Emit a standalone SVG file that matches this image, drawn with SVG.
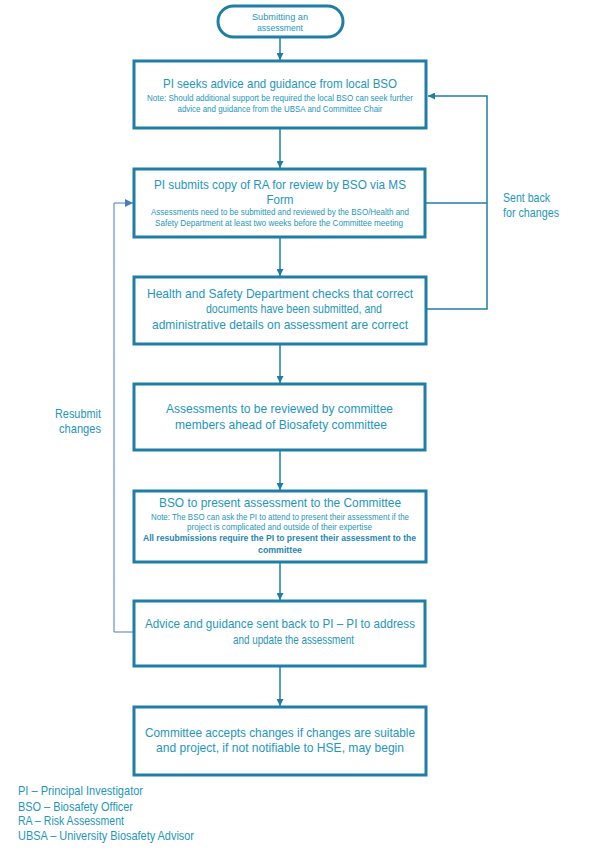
<svg xmlns="http://www.w3.org/2000/svg" width="591" height="855" viewBox="0 0 591 855">
<defs>
<style>
.box{fill:#fff;stroke:#1f7ea6;stroke-width:3}
.t{font-family:"Liberation Sans","Open Sans",sans-serif;fill:#2596bb;text-anchor:middle}
.h{font-size:12.6px}
.n{font-size:8.2px}
.b{font-size:8.8px;font-weight:bold;fill:#1f86b0}
.lg{font-family:"Liberation Sans","Open Sans",sans-serif;fill:#2596bb;font-size:12.2px}
.c{fill:none;stroke:#1f7ea6;stroke-width:1.5}
.c2{fill:none;stroke:#4a7bc8;stroke-width:1}
</style>
<marker id="ah" viewBox="0 0 10 10" refX="10" refY="5" markerWidth="7" markerHeight="7" markerUnits="userSpaceOnUse" orient="auto"><path d="M0,0L10,5L0,10z" fill="#1f7ea6"/></marker>
<marker id="ah2" viewBox="0 0 10 10" refX="10" refY="5" markerWidth="8" markerHeight="8" markerUnits="userSpaceOnUse" orient="auto"><path d="M0,0L10,5L0,10z" fill="#4a7bc8"/></marker>
</defs>
<rect width="591" height="855" fill="#fff"/>
<g id="connectors">
<line class="c" x1="280" y1="38" x2="280" y2="60" marker-end="url(#ah)"/>
<line class="c" x1="280" y1="129" x2="280" y2="168" marker-end="url(#ah)"/>
<line class="c" x1="280" y1="238" x2="280" y2="276" marker-end="url(#ah)"/>
<line class="c" x1="280" y1="345" x2="280" y2="383" marker-end="url(#ah)"/>
<line class="c" x1="280" y1="451" x2="280" y2="490" marker-end="url(#ah)"/>
<line class="c" x1="280" y1="563" x2="280" y2="600" marker-end="url(#ah)"/>
<line class="c" x1="280" y1="667" x2="280" y2="706" marker-end="url(#ah)"/>
<polyline class="c" points="427,309 487,309 487,96 428,96" marker-end="url(#ah)"/>
<line class="c" x1="426" y1="203" x2="487" y2="203"/>
<polyline class="c2" points="133,632 114,632 114,203 133,203" marker-end="url(#ah2)"/>
<text class="lg" x="503" y="202" textLength="47" lengthAdjust="spacingAndGlyphs">Sent back</text>
<text class="lg" x="503" y="216.5" textLength="56" lengthAdjust="spacingAndGlyphs">for changes</text>
<text class="lg" x="55" y="418" textLength="46" lengthAdjust="spacingAndGlyphs">Resubmit</text>
<text class="lg" x="59" y="432.5" textLength="42" lengthAdjust="spacingAndGlyphs">changes</text>
</g>
<g id="start">
<rect x="218" y="6" width="125" height="31" rx="15.5" fill="#fff" stroke="#1f7ea6" stroke-width="3"/>
<text class="t" x="280" y="19.5" font-size="8.8" textLength="56" lengthAdjust="spacingAndGlyphs">Submitting an</text>
<text class="t" x="280" y="31" font-size="8.8" textLength="46" lengthAdjust="spacingAndGlyphs">assessment</text>
</g>
<g id="box1">
<rect class="box" x="134" y="61" width="292" height="67"/>
<text class="t h" x="280" y="88" textLength="234" lengthAdjust="spacingAndGlyphs">PI seeks advice and guidance from local BSO</text>
<text class="t n" x="280" y="101" textLength="266" lengthAdjust="spacingAndGlyphs">Note: Should additional support be required the local BSO can seek further</text>
<text class="t n" x="280" y="111.5" textLength="205" lengthAdjust="spacingAndGlyphs">advice and guidance from the UBSA and Committee Chair</text>
</g>
<g id="box2">
<rect class="box" x="134" y="169" width="291" height="68"/>
<text class="t h" x="280" y="189" textLength="252" lengthAdjust="spacingAndGlyphs">PI submits copy of RA for review by BSO via MS</text>
<text class="t h" x="280" y="203.5" textLength="27" lengthAdjust="spacingAndGlyphs">Form</text>
<text class="t n" x="280" y="215" textLength="258" lengthAdjust="spacingAndGlyphs">Assessments need to be submitted and reviewed by the BSO/Health and</text>
<text class="t n" x="279" y="226" textLength="248" lengthAdjust="spacingAndGlyphs">Safety Department at least two weeks before the Committee meeting</text>
</g>
<g id="box3">
<rect class="box" x="134" y="277" width="292" height="67"/>
<text class="t h" x="280" y="298" textLength="266" lengthAdjust="spacingAndGlyphs">Health and Safety Department checks that correct</text>
<text class="t h" x="294" y="313" textLength="176" lengthAdjust="spacingAndGlyphs">documents have been submitted, and</text>
<text class="t h" x="280" y="328.5" textLength="256" lengthAdjust="spacingAndGlyphs">administrative details on assessment are correct</text>
</g>
<g id="box4">
<rect class="box" x="134" y="384" width="291" height="66"/>
<text class="t h" x="279.5" y="413" textLength="227" lengthAdjust="spacingAndGlyphs">Assessments to be reviewed by committee</text>
<text class="t h" x="281" y="429" textLength="212" lengthAdjust="spacingAndGlyphs">members ahead of Biosafety committee</text>
</g>
<g id="box5">
<rect class="box" x="134" y="491" width="292" height="71"/>
<text class="t h" x="280" y="507" textLength="242" lengthAdjust="spacingAndGlyphs">BSO to present assessment to the Committee</text>
<text class="t n" x="280" y="520" textLength="258" lengthAdjust="spacingAndGlyphs">Note: The BSO can ask the PI to attend to present their assessment if the</text>
<text class="t n" x="279.5" y="529.5" textLength="185" lengthAdjust="spacingAndGlyphs">project is complicated and outside of their expertise</text>
<text class="t b" x="279.5" y="541" textLength="273" lengthAdjust="spacingAndGlyphs">All resubmissions require the PI to present their assessment to the</text>
<text class="t b" x="280" y="552.5" textLength="44" lengthAdjust="spacingAndGlyphs">committee</text>
</g>
<g id="box6">
<rect class="box" x="134" y="601" width="291" height="65"/>
<text class="t h" x="280" y="628" textLength="270" lengthAdjust="spacingAndGlyphs">Advice and guidance sent back to PI – PI to address</text>
<text class="t h" x="293.5" y="644" textLength="121" lengthAdjust="spacingAndGlyphs">and update the assessment</text>
</g>
<g id="box7">
<rect class="box" x="134" y="707" width="292" height="68"/>
<text class="t h" x="280" y="737" textLength="270" lengthAdjust="spacingAndGlyphs">Committee accepts changes if changes are suitable</text>
<text class="t h" x="280" y="752" textLength="248" lengthAdjust="spacingAndGlyphs">and project, if not notifiable to HSE, may begin</text>
</g>
<g id="legend">
<text class="lg" x="18" y="795" textLength="125" lengthAdjust="spacingAndGlyphs">PI – Principal Investigator</text>
<text class="lg" x="18" y="810.5" textLength="115" lengthAdjust="spacingAndGlyphs">BSO – Biosafety Officer</text>
<text class="lg" x="18" y="825" textLength="106" lengthAdjust="spacingAndGlyphs">RA – Risk Assessment</text>
<text class="lg" x="18" y="839.5" textLength="176" lengthAdjust="spacingAndGlyphs">UBSA – University Biosafety Advisor</text>
</g>
</svg>
